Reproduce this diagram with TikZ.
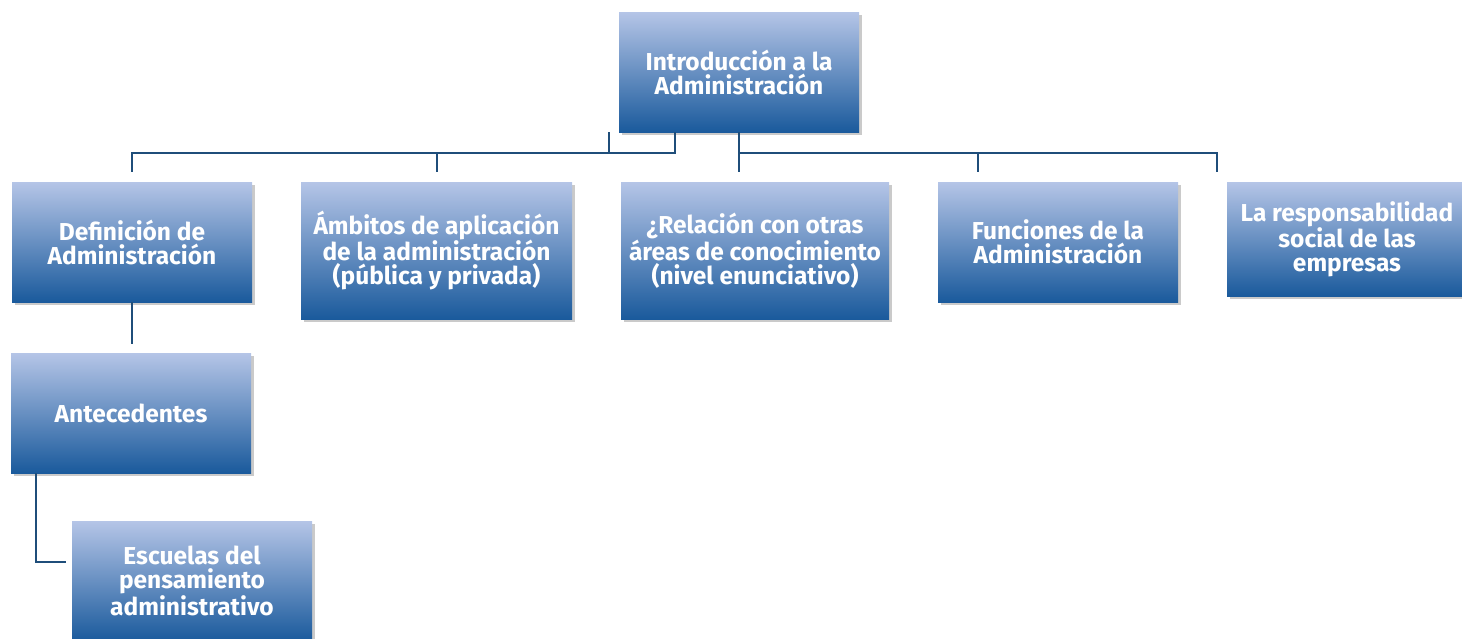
\documentclass[tikz,border=0pt]{standalone}
\usepackage{fontspec}
\setmainfont{Fira Sans}
\usetikzlibrary{shadows}
\definecolor{lineblue}{HTML}{1F4E7A}
\definecolor{boxtop}{HTML}{B5C5E7}
\definecolor{boxbot}{HTML}{1A5A9C}
\tikzset{
  boxnode/.style={rectangle, inner sep=0pt, top color=boxtop, bottom color=boxbot,
    text=white, align=center, font=\fontsize{24.5}{24}\selectfont\bfseries,
    drop shadow={shadow xshift=2.5pt, shadow yshift=-2.5pt, opacity=0.35, fill=black!60}},
  conn/.style={draw=lineblue, line width=2pt}
}
\begin{document}
\begin{tikzpicture}[x=1pt, y=-1pt]
\useasboundingbox (0,0) rectangle (1462,638);
\node[boxnode, minimum width=240pt, minimum height=120pt] (top) at (739,72) {Introducción a la\\Administración};
\node[boxnode, minimum width=240pt, minimum height=120pt] (def) at (132,242) {Definición de\\Administración};
\node[boxnode, minimum width=271pt, minimum height=137pt] (amb) at (436.5,250.5) {Ámbitos de aplicación\\de la administración\\(pública y privada)};
\node[boxnode, minimum width=268pt, minimum height=137pt] (rel) at (755,250.5) {¿Relación con otras\\áreas de conocimiento\\(nivel enunciativo)};
\node[boxnode, minimum width=240pt, minimum height=120pt] (fun) at (1058,242) {Funciones de la\\Administración};
\node[boxnode, minimum width=240pt, minimum height=114pt] (res) at (1347,239) {La responsabilidad\\social de las\\empresas};
\node[boxnode, minimum width=240pt, minimum height=120pt] (ant) at (131,413) {Antecedentes};
\node[boxnode, minimum width=240pt, minimum height=120pt] (esc) at (192,581) {Escuelas del\\pensamiento\\administrativo};
% connectors
\coordinate (lbar) at (132,153);
\coordinate (rbar) at (1217,153);
\draw[conn] ([xshift=-64pt]top.south) |- (lbar) -- ([yshift=10pt]def.north);
\draw[conn] (amb.north |- lbar) -- ([yshift=10pt]amb.north);
\draw[conn] ([xshift=-130pt]top.south) -- ([xshift=-130pt]top.south |- lbar);
\draw[conn] (top.south) -- ([yshift=10pt]top.south |- rel.north);
\draw[conn] (top.south |- rbar) -- (rbar) -- ([yshift=10pt]rbar |- res.north);
\draw[conn] (978,153) -- ([yshift=10pt]978,182);
\draw[conn] (def.south) -- ([yshift=9pt]def.south |- ant.north);
\draw[conn] ([xshift=25pt]ant.south west) |- ([xshift=-6pt]esc.west |- 0,562);
\end{tikzpicture}
\end{document}
